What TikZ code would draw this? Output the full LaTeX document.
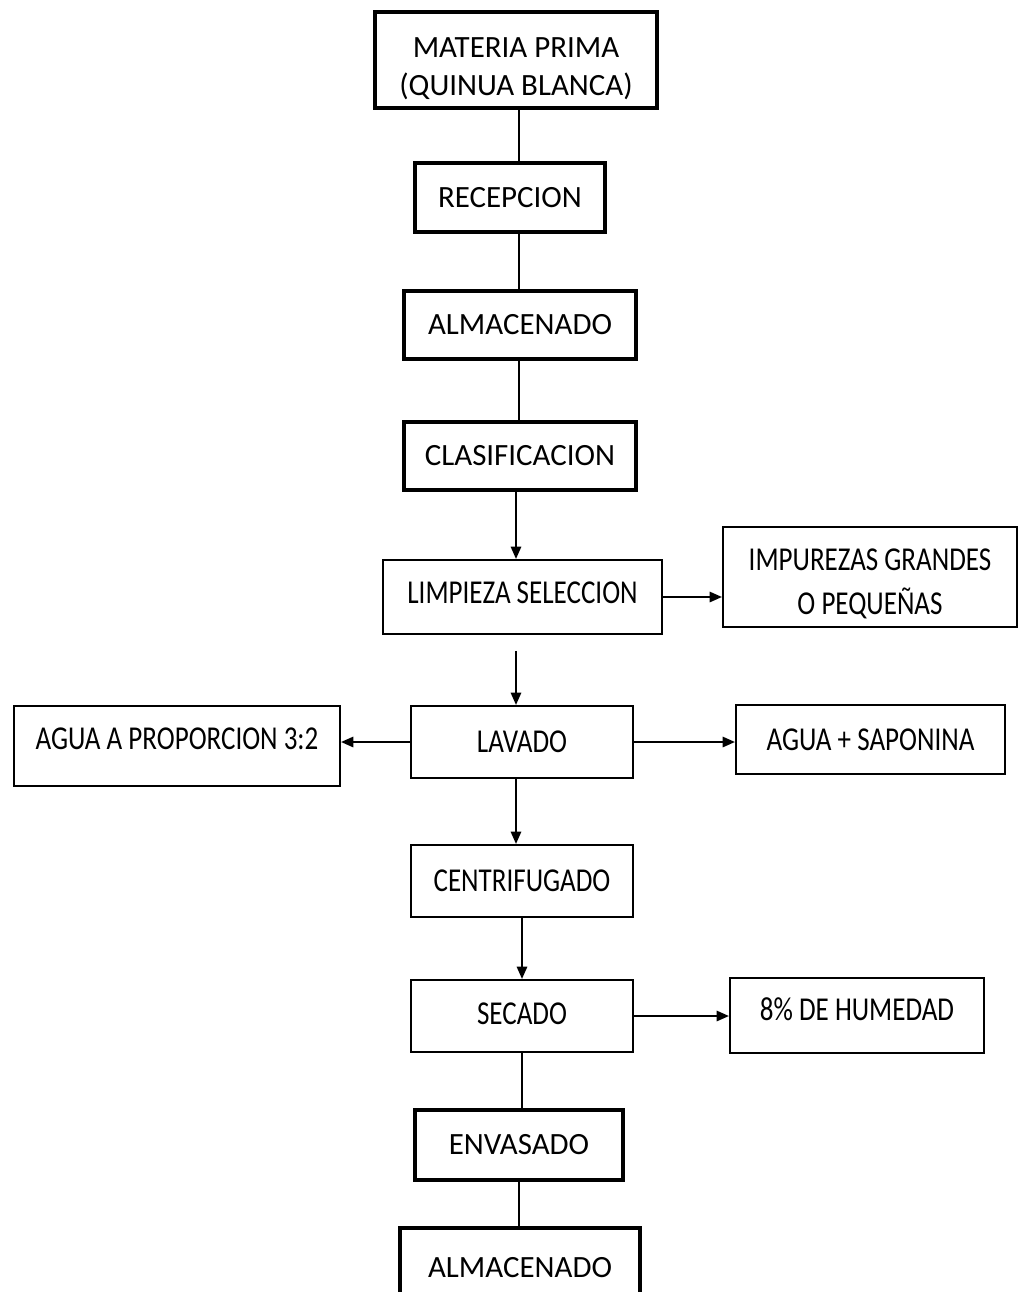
\documentclass[tikz,border=0pt]{standalone}
\usepackage{fontspec}
\setmainfont{Carlito}
\newfontfamily\narrowfont[FakeStretch=0.81]{Carlito}
\usetikzlibrary{arrows.meta}

\begin{document}
\begin{tikzpicture}[x=0.02cm, y=-0.02cm,
    caja/.style={draw, line width=1.8pt, align=center, inner sep=0pt,
      font=\fontsize{17.6}{22}\selectfont},
    cajafina/.style={draw, line width=1.3pt, align=center, inner sep=0pt,
      font=\narrowfont\fontsize{19}{25}\selectfont},
    linea/.style={line width=0.9pt},
    flecha/.style={line width=0.8pt, -{Triangle[width=6pt,length=7pt]}}]
        \useasboundingbox (0,0) rectangle (1019,1292);
        \coordinate (eje) at (519,0);
        \coordinate (ejeb) at (516,0);

        % Columna principal
        \node[caja, minimum width=5.64cm, minimum height=1.92cm] (materia) at (516,60) {\raisebox{-5pt}[\height][\depth]{\begin{tabular}{@{}c@{}}MATERIA PRIMA\\(QUINUA BLANCA)\end{tabular}}};
        \node[caja, minimum width=3.8cm, minimum height=1.38cm] (recepcion) at (510,197.5) {RECEPCION};
        \node[caja, minimum width=4.64cm, minimum height=1.36cm] (almacen1) at (520,325) {ALMACENADO};
        \node[caja, minimum width=4.64cm, minimum height=1.36cm] (clasif) at (520,456) {CLASIFICACION};
        \node[cajafina, minimum width=5.58cm, minimum height=1.48cm, text depth=5pt] (limpieza) at (522.5,597) {LIMPIEZA SELECCION};
        \node[cajafina, minimum width=4.44cm, minimum height=1.44cm] (lavado) at (522,742) {LAVADO};
        \node[cajafina, minimum width=4.44cm, minimum height=1.44cm] (centrif) at (522,881) {CENTRIFUGADO};
        \node[cajafina, minimum width=4.44cm, minimum height=1.44cm, text depth=3pt] (secado) at (522,1016) {SECADO};
        \node[caja, minimum width=4.16cm, minimum height=1.4cm] (envasado) at (519,1145) {ENVASADO};
        \node[caja, minimum width=4.8cm, minimum height=1.6cm] (almacen2) at (520,1268) {ALMACENADO};

        % Entradas y salidas
        \node[cajafina, minimum width=5.88cm, minimum height=2cm] (impurezas) at (870,577) {\raisebox{-4pt}[\height][\depth]{\begin{tabular}{@{}c@{}}IMPUREZAS GRANDES\\O PEQUEÑAS\end{tabular}}};
        \node[cajafina, minimum width=6.52cm, minimum height=1.6cm, text depth=8pt] (agua) at (177,746) {AGUA A PROPORCION 3:2};
        \node[cajafina, minimum width=5.38cm, minimum height=1.38cm] (saponina) at (870.5,739.5) {AGUA + SAPONINA};
        \node[cajafina, minimum width=5.08cm, minimum height=1.5cm, text depth=7pt] (humedad) at (857,1015.5) {8\% DE HUMEDAD};

        \draw[linea] (materia.south -| eje) -- (recepcion.north -| eje);
        \draw[linea] (recepcion.south -| eje) -- (almacen1.north -| eje);
        \draw[linea] (almacen1.south -| eje) -- (clasif.north -| eje);
        \draw[flecha] (clasif.south -| ejeb) -- (limpieza.north -| ejeb);
        \draw[flecha] (limpieza.east) -- (impurezas.west |- limpieza.east);
        \draw[flecha, shorten <=9pt] (limpieza.south -| ejeb) -- (lavado.north -| ejeb);
        \draw[flecha] (lavado.west) -- (agua.east |- lavado.west);
        \draw[flecha] (lavado.east) -- (saponina.west |- lavado.east);
        \draw[flecha] (lavado.south -| ejeb) -- (centrif.north -| ejeb);
        \draw[flecha] (centrif.south -| secado) -- (secado.north);
        \draw[flecha] (secado.east) -- (humedad.west |- secado.east);
        \draw[linea] (secado.south) -- (envasado.north -| secado);
        \draw[linea] (envasado.south -| eje) -- (almacen2.north -| eje);
    \end{tikzpicture}
\end{document}
